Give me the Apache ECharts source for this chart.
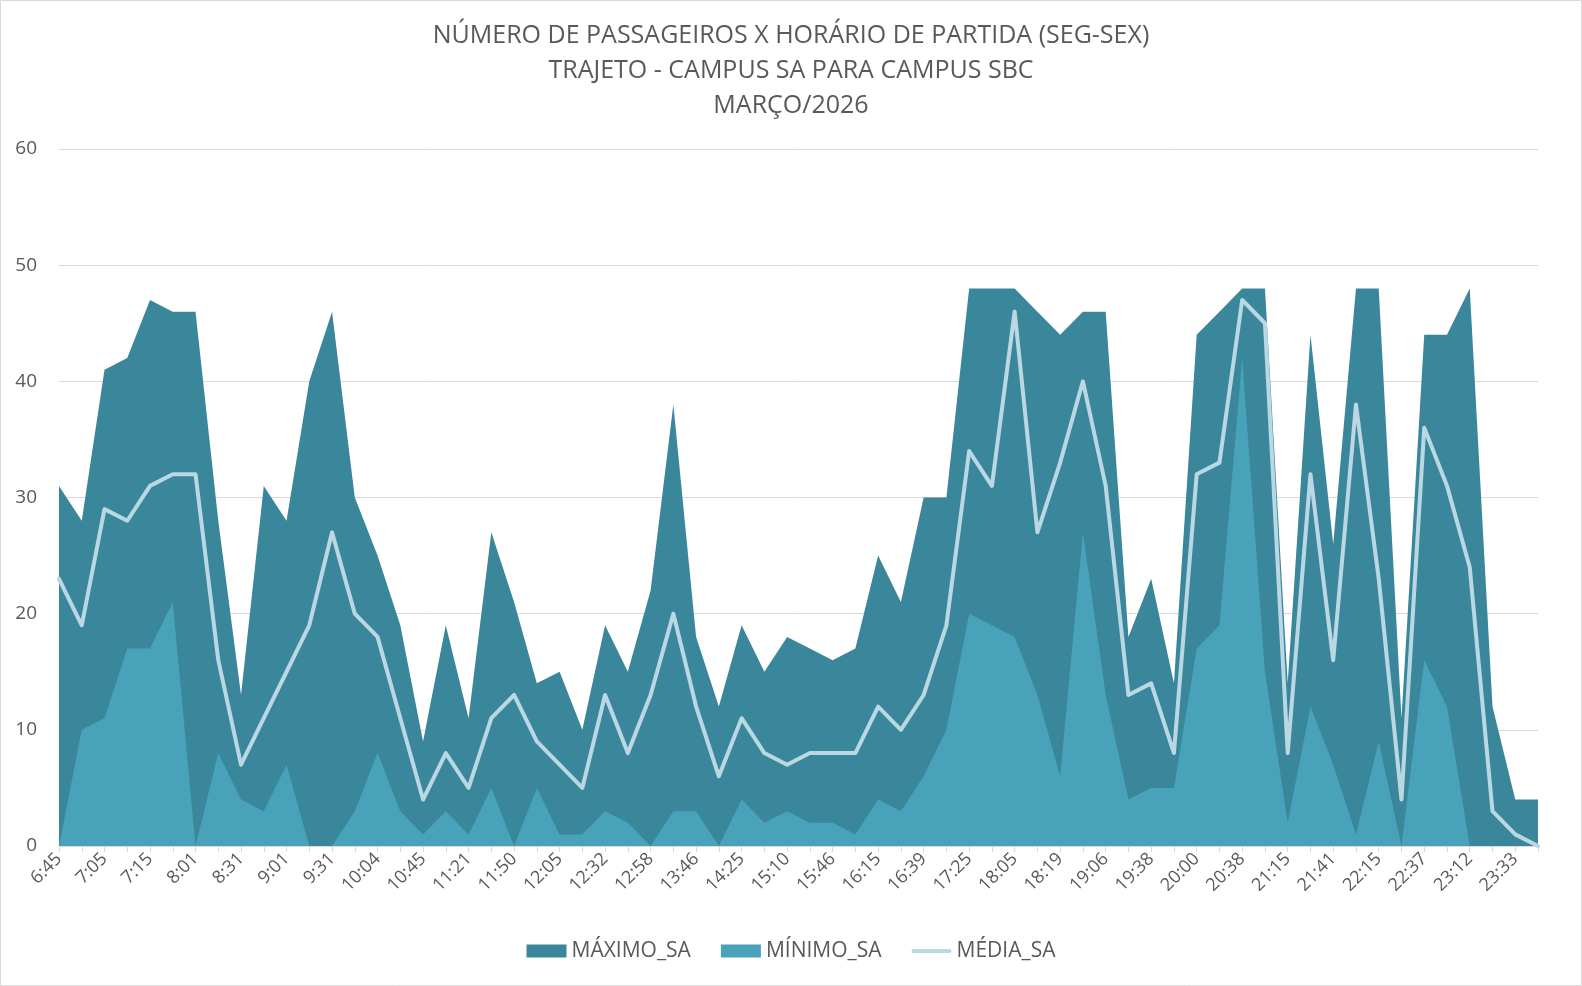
<!DOCTYPE html>
<html>
<head>
<meta charset="utf-8">
<script src="https://cdn.jsdelivr.net/npm/echarts@6/dist/echarts.min.js"></script>
<style>
html,body{margin:0;padding:0;background:#fff;}
#c{width:1582px;height:986px;}
</style>
</head>
<body>
<div id="c"></div>
<script>
const categories = ['6:45','6:55','7:05','7:10','7:15','7:40','8:01','8:15','8:31','8:45',
  '9:01','9:15','9:31','9:45','10:04','10:25','10:45','11:00','11:21','11:35',
  '11:50','11:58','12:05','12:20','12:32','12:45','12:58','13:20','13:46','14:05',
  '14:25','14:45','15:10','15:30','15:46','16:00','16:15','16:25','16:39','17:00',
  '17:25','17:45','18:05','18:12','18:19','18:40','19:06','19:20','19:38','19:50',
  '20:00','20:20','20:38','20:50','21:15','21:30','21:41','22:00','22:15','22:25',
  '22:37','22:55','23:12','23:20','23:33','23:45'];

const maximoSA = [31,28,41,42,47,46,46,28,13,31, 28,40,46,30,25,19,9,19,11,27,
  21,14,15,10,19,15,22,38,18,12, 19,15,18,17,16,17,25,21,30,30,
  48,48,48,46,44,46,46,18,23,14, 44,46,48,48,14,44,26,48,48,11,
  44,44,48,12,4,4];

const minimoSA = [0,10,11,17,17,21,0,8,4,3, 7,0,0,3,8,3,1,3,1,5,
  0,5,1,1,3,2,0,3,3,0, 4,2,3,2,2,1,4,3,6,10,
  20,19,18,13,6,27,13,4,5,5, 17,19,42,15,2,12,7,1,9,0,
  16,12,0,0,0,0];

const mediaSA = [23,19,29,28,31,32,32,16,7,11, 15,19,27,20,18,11,4,8,5,11,
  13,9,7,5,13,8,13,20,12,6, 11,8,7,8,8,8,12,10,13,19,
  34,31,46,27,33,40,31,13,14,8, 32,33,47,45,8,32,16,38,23,4,
  36,31,24,3,1,0];

const yTicks = [0,10,20,30,40,50,60];

const txt = '#595959';
const cMax = '#3a879b', cMin = '#47a2ba', cAvg = '#b9d8e3';

const chart = echarts.init(document.getElementById('c'), null, {renderer:'canvas'});
chart.setOption({
  backgroundColor:'#ffffff',
  animation:false,
  title:{
    text:'NÚMERO DE PASSAGEIROS X HORÁRIO DE PARTIDA (SEG-SEX)\nTRAJETO - CAMPUS SA PARA CAMPUS SBC\nMARÇO/2026',
    left:'center', top:13,
    textStyle:{color:txt, fontFamily:'Open Sans', fontWeight:'normal', fontSize:25, lineHeight:35}
  },
  graphic:[{type:'rect', shape:{x:0.5,y:0.5,width:1581,height:985}, style:{fill:'none', stroke:'#d9d9d9', lineWidth:1}, silent:true}],
  legend:{
    top:939, left:'center', padding:0, itemWidth:40, itemHeight:13, itemGap:30,
    textStyle:{color:txt, fontFamily:'Open Sans', fontSize:21, lineHeight:24},
    data:[
      {name:'MÁXIMO_SA', icon:'rect'},
      {name:'MÍNIMO_SA', icon:'rect'},
      {name:'MÉDIA_SA', icon:'path://M2,0H38A2,2 0 0 1 38,4H2A2,2 0 0 1 2,0Z'}
    ]
  },
  grid:{left:59, right:44, top:149, bottom:140, containLabel:false},
  xAxis:{
    type:'category', data:categories, boundaryGap:false,
    axisLine:{lineStyle:{color:'#d9d9d9', width:1}},
    axisTick:{show:true, interval:0, length:6, lineStyle:{color:'#d9d9d9'}},
    axisLabel:{interval:1, rotate:45, color:txt, fontFamily:'Open Sans', fontSize:18, margin:10}
  },
  yAxis:{
    type:'value', min:yTicks[0], max:yTicks[yTicks.length-1], interval:10,
    axisLine:{show:false}, axisTick:{show:false},
    axisLabel:{color:txt, fontFamily:'Open Sans', fontSize:19, margin:22},
    splitLine:{lineStyle:{color:'#d9d9d9', width:1}}
  },
  series:[
    {name:'MÁXIMO_SA', type:'line', data:maximoSA, symbol:'none', lineStyle:{width:0},
     itemStyle:{color:cMax}, areaStyle:{color:cMax, opacity:1}, z:2},
    {name:'MÍNIMO_SA', type:'line', data:minimoSA, symbol:'none', lineStyle:{width:0},
     itemStyle:{color:cMin}, areaStyle:{color:cMin, opacity:1}, z:3},
    {name:'MÉDIA_SA', type:'line', data:mediaSA, symbol:'none',
     lineStyle:{width:4, color:cAvg, cap:'round', join:'round'}, itemStyle:{color:cAvg}, z:4}
  ]
});
</script>
</body>
</html>
